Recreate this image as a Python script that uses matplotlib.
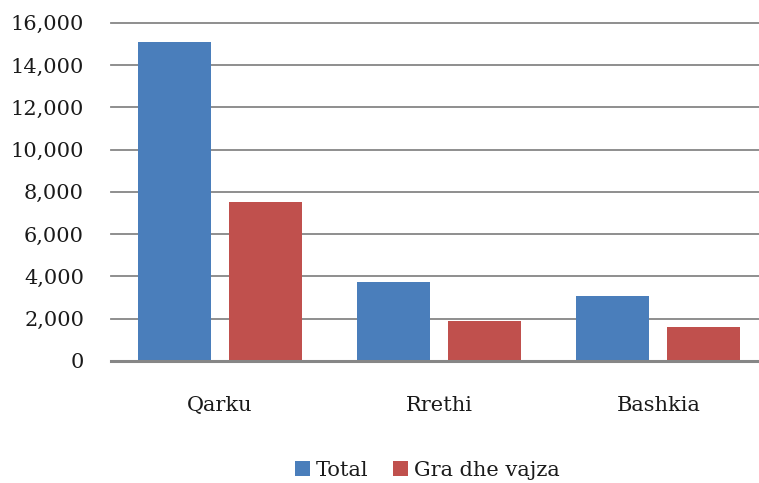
import matplotlib
matplotlib.use("Agg")
import matplotlib.pyplot as plt
import numpy as np

categories = ["Qarku", "Rrethi", "Bashkia"]
total = [15100, 3750, 3070]
gra = [7500, 1890, 1600]
series_names = ["Total", "Gra dhe vajza"]
yticks = [0, 2000, 4000, 6000, 8000, 10000, 12000, 14000, 16000]

plt.rcParams['font.family'] = ['DejaVu Serif']

fig = plt.figure(figsize=(7.59, 4.83), dpi=100)
W, H = 759, 483
left, right, top, bottom = 110.5, 768, 22.7, 361
ax = fig.add_axes([left / W, 1 - bottom / H, (right - left) / W, (bottom - top) / H])

x = np.arange(len(categories))
bw = 0.333
off = 0.2077
b1 = ax.bar(x - off, total, bw, color="#4A7EBB", label=series_names[0], zorder=3)
b2 = ax.bar(x + off, gra, bw, color="#C0504D", label=series_names[1], zorder=3)

ax.set_xlim(-0.5, 2.5)
ax.set_ylim(0, 16000)
ax.set_yticks(yticks)
ax.set_yticklabels([f"{v:,}" for v in yticks], fontsize=15, color="#1a1a1a")
ax.set_xticks(x)
ax.set_xticklabels(categories, fontsize=15, color="#1a1a1a")
ax.tick_params(axis='y', length=0, pad=19)
ax.tick_params(axis='x', length=0, pad=25)
ax.yaxis.grid(True, color="#868686", linewidth=1.3, zorder=0)
for gl in ax.get_ygridlines():
    gl.set_clip_on(False)
ax.set_axisbelow(True)
for s in ["top", "right", "left"]:
    ax.spines[s].set_visible(False)
ax.spines["bottom"].set_color("#868686")
ax.spines["bottom"].set_linewidth(2.2)
ax.spines["bottom"].set_zorder(4)

leg = fig.legend(handles=[b1, b2], labels=series_names, loc="center",
                 bbox_to_anchor=(427.5 / W, 1 - 470 / H), ncol=2, frameon=False,
                 fontsize=15, handlelength=0.7, handleheight=0.7,
                 handletextpad=0.3, columnspacing=1.2)
for t in leg.get_texts():
    t.set_color("#1a1a1a")

fig.savefig("out.png", dpi=100)
